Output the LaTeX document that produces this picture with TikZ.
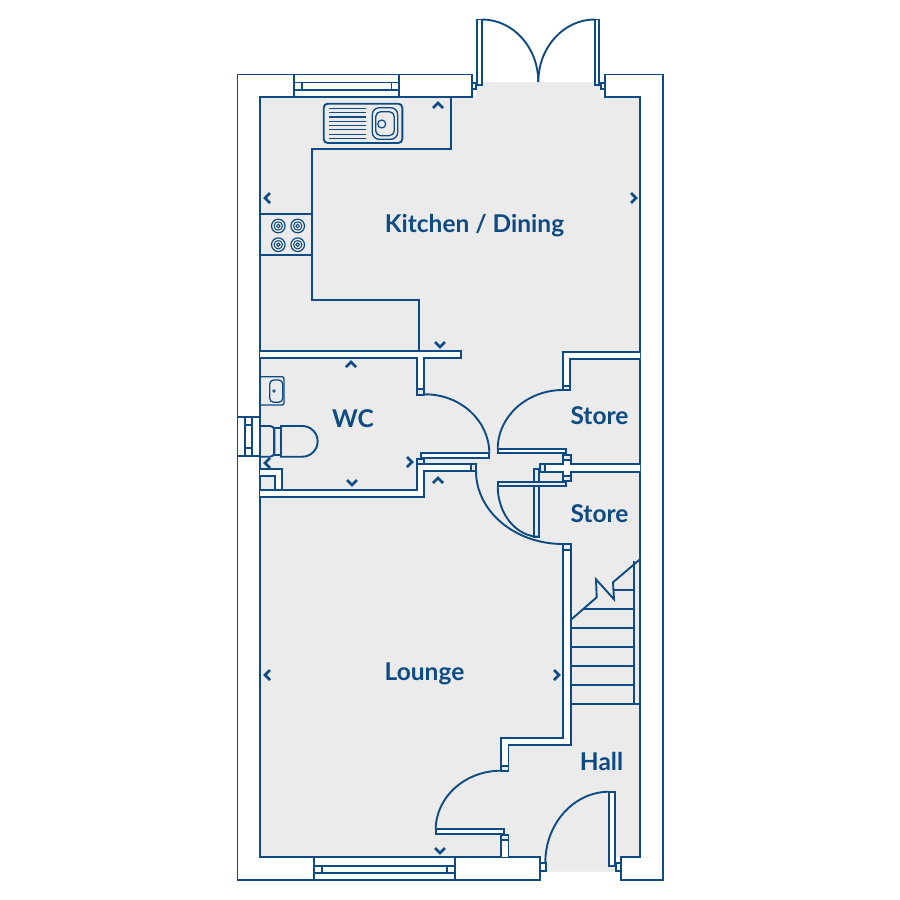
\documentclass[tikz,border=0pt]{standalone}
\usepackage{fontspec}
\setmainfont{Lato}
\usetikzlibrary{positioning,calc}
\definecolor{planblue}{HTML}{0D4B82}
\definecolor{floorgrey}{HTML}{EBEBEB}
\tikzset{
  plan/.style={draw=planblue,line width=1.9pt,line join=miter},
  wall/.style={plan,fill=white},
  jamb/.style={plan,fill=floorgrey},
  thin/.style={draw=planblue,line width=1.2pt},
  room/.style={text=planblue,font=\bfseries\fontsize{24.5}{28}\selectfont,inner sep=0pt,anchor=base},
  dimmark/.style={draw=planblue,line width=2.6pt,line cap=butt},
}
\begin{document}
\begin{tikzpicture}[x=1pt,y=-1pt]
\useasboundingbox (0,0) rectangle (900,900);
% floor
\fill[floorgrey] (260,97.3) -- (476,97.3) -- (476,86) -- (482,86) -- (482,82) -- (595,82) -- (595,86) -- (601,86) -- (601,97.3) -- (640,97.3)
  -- (640,857.3) -- (616,857.3) -- (616,871.7) -- (545,871.7) -- (545,857.3) -- (260,857.3) -- cycle;
% outer walls
\draw[wall] (471.7,74.5) -- (237.5,74.5) -- (237.5,880.3) -- (540,880.3) -- (540,857.3) -- (260,857.3) -- (260,97.3) -- (471.7,97.3) -- cycle;
\draw[wall] (605,74.5) -- (662.7,74.5) -- (662.7,880.3) -- (620.7,880.3) -- (620.7,857.3) -- (640,857.3) -- (640,97.3) -- (605,97.3) -- cycle;
% windows
\draw[wall] (294.3,74.5) rectangle (399.3,97.3);
\draw[plan] (294.3,82.5) rectangle (399.3,90);
\draw[plan] (302,82.5) rectangle (391.5,90);
\draw[wall] (314,857.3) rectangle (455.3,880.3);
\draw[plan] (314,865.7) rectangle (455.3,872.7);
\draw[plan] (322.3,865.7) rectangle (446.7,872.7);
\draw[wall] (237.5,416.7) rectangle (260,455.7);
\draw[plan] (245,416.7) rectangle (252.3,455.7);
\draw[plan] (245,425) rectangle (252.3,448);
% worktop
\draw[plan] (451.3,97.3) -- (451.3,149.3) -- (312,149.3) -- (312,300) -- (419,300) -- (419,351);
\draw[plan] (260,214.3) -- (312,214.3);
\draw[plan] (260,255.3) -- (312,255.3);
% sink
\draw[plan,rounded corners=4pt] (323.7,103.7) rectangle (402.3,143);
\foreach \y in {0,...,7}
  \draw[thin] (329,108.3+\y*4.3) -- (366,108.3+\y*4.3);
\draw[plan,line width=1.3pt,rounded corners=7pt] (372.3,107.7) rectangle (397.7,139.3);
\draw[plan,line width=1.3pt,rounded corners=5pt] (375.7,111.7) rectangle (394.3,135.7);
\draw[plan,line width=1.2pt] (381.7,124) circle (4);
% hob
\foreach \x in {278.3,297.7}
  \foreach \y in {226,244.7} {
    \draw[thin] (\x,\y) circle (6.8);
    \draw[thin,line width=1pt] (\x,\y) circle (4.2);
    \draw[thin,line width=1pt] (\x,\y) circle (1.8);
  }
% inner walls
\draw[wall] (260,351) -- (460.7,351) -- (460.7,357.7) -- (424,357.7) -- (424,395) -- (416.7,395) -- (416.7,357.7) -- (260,357.7);
\draw[jamb] (416.7,389) rectangle (424,395);
\draw[wall] (260,490) -- (416.7,490) -- (416.7,464.3) -- (476,464.3) -- (476,471) -- (424,471) -- (424,497.3) -- (260,497.3);
\draw[jamb] (416.7,459) rectangle (424,464.3);
\draw[jamb] (470.7,464.3) rectangle (476,471);
\draw[wall] (640,352.3) -- (562.7,352.3) -- (562.7,390) -- (570,390) -- (570,359.3) -- (640,359.3);
\draw[jamb] (562.7,385.7) rectangle (570,390);
\draw[wall] (640,464) -- (570.7,464) -- (570.7,455) -- (562.7,455) -- (562.7,464) -- (540,464) -- (540,471.7) -- (562.7,471.7) -- (562.7,481) -- (570.7,481) -- (570.7,471.7) -- (640,471.7);
\draw[jamb] (562.7,455) rectangle (570.7,460);
\draw[jamb] (562.7,475.7) rectangle (570.7,481);
\draw[jamb] (540,464) rectangle (545.3,471.7);
% lounge / hall wall
\draw[wall] (563,544.3) -- (563,737.7) -- (501,737.7) -- (501,770.7) -- (508.5,770.7) -- (508.5,744.7) -- (570.7,744.7) -- (570.7,544.3) -- cycle;
\draw[jamb] (563,544.3) rectangle (570.7,550);
\draw[jamb] (501,765.8) rectangle (508.5,770.7);
\draw[wall] (501,857.3) -- (501,835) -- (508.5,835) -- (508.5,857.3);
\draw[jamb] (501,835) rectangle (508.5,840);
% duct
\draw[wall] (260,469) -- (282.3,469) -- (282.3,490) -- (275,490) -- (275,476) -- (260,476);
% door leaves
\draw[wall] (477,19.5) rectangle (482,85.3);
\draw[wall] (594.7,19.5) rectangle (599.3,85.3);
\draw[wall] (471.7,82.7) rectangle (476.3,89.3);
\draw[wall] (600.7,82.7) rectangle (605,89.3);
\draw[wall] (421,453.3) rectangle (489.3,457.7);
\draw[wall] (497.7,448.7) rectangle (565.7,453.3);
\draw[plan,fill=floorgrey] (534.3,469.3) rectangle (539,536.7);
\draw[wall,fill=floorgrey] (497.7,481.7) rectangle (565.7,486);
\draw[wall] (435.7,829.3) rectangle (504,834.3);
\draw[wall] (609.3,791.7) rectangle (615,866);
\draw[wall] (540,863.3) rectangle (545.7,871.3);
\draw[wall] (616,863.3) rectangle (620.7,871.3);
% door swings
\draw[plan] (482,19.5) arc[start angle=-90,end angle=0,x radius=56.3,y radius=62.5];
\draw[plan] (594.7,19.5) arc[start angle=-90,end angle=-180,x radius=56.4,y radius=62.5];
\draw[plan] (425,394.3) arc[start angle=-90,end angle=0,x radius=64.3,y radius=59];
\draw[plan] (563,390) arc[start angle=-90,end angle=-180,x radius=65.3,y radius=59];
\draw[plan] (476,471) arc[start angle=180,end angle=90,x radius=87,y radius=73];
\draw[plan] (497.7,486) arc[start angle=180,end angle=90,x radius=41.3,y radius=50.7];
\draw[plan] (501,770.7) arc[start angle=-90,end angle=-180,x radius=65.3,y radius=59];
\draw[plan] (609.3,791.7) arc[start angle=-90,end angle=-180,x radius=64,y radius=71];
% stairs
\draw[plan] (634,561) -- (634,704.3);
\draw[plan] (570.7,704.3) -- (640,704.3);
\foreach \y in {685,666,646.7,627.7}
  \draw[plan] (570.7,\y) -- (634,\y);
\draw[plan] (584,608.7) -- (634,608.7);
\draw[plan] (613.3,590.3) -- (634,590.3);
\draw[plan] (570.7,620) -- (596.7,597.3) -- (596,579.3) -- (614,599.3) -- (613,582.3) -- (640,559.3);
% wc
\draw[plan,line width=1.3pt,rounded corners=2pt] (260,376.7) -- (284,376.7) -- (284,405) -- (260,405);
\draw[plan,line width=1.3pt,rounded corners=4pt] (269.7,380) rectangle (282.7,402.3);
\draw[thin,line width=.8pt] (274,391) circle (1.3);
\draw[plan,rounded corners=4pt] (260,426) -- (274.3,426) -- (274.3,456.7) -- (260,456.7);
\draw[plan] (274.3,427.7) rectangle (281,455.3);
\draw[plan] (281,426) -- (302.3,426) arc[start angle=-90,end angle=90,radius=15.35] -- (281,456.7) -- cycle;
% view marks
\foreach \x/\y in {438/105,351/364,438/480}
  \draw[dimmark] (\x-5,\y+3) -- (\x,\y-2) -- (\x+5,\y+3);
\foreach \x/\y in {440/345,352/483,440/851}
  \draw[dimmark] (\x-5,\y-3) -- (\x,\y+2) -- (\x+5,\y-3);
\foreach \x/\y in {267/198,267/463,267/675}
  \draw[dimmark] (\x+3,\y-5) -- (\x-2,\y) -- (\x+3,\y+5);
\foreach \x/\y in {634/198,410/462,557/675}
  \draw[dimmark] (\x-3,\y-5) -- (\x+2,\y) -- (\x-3,\y+5);
% labels
\node[room] (kitchen) at (474.5,232.7) {Kitchen / Dining};
\node[room] (wc) at (353,427.3) {WC};
\node[room] (storeup) at (599.5,424.7) {Store};
\node[room] (storelow) at (599.5,522.7) {Store};
\node[room] (lounge) at (424.5,680.7) {Lounge};
\node[room] (hall) at (601.5,770) {Hall};
\end{tikzpicture}
\end{document}
